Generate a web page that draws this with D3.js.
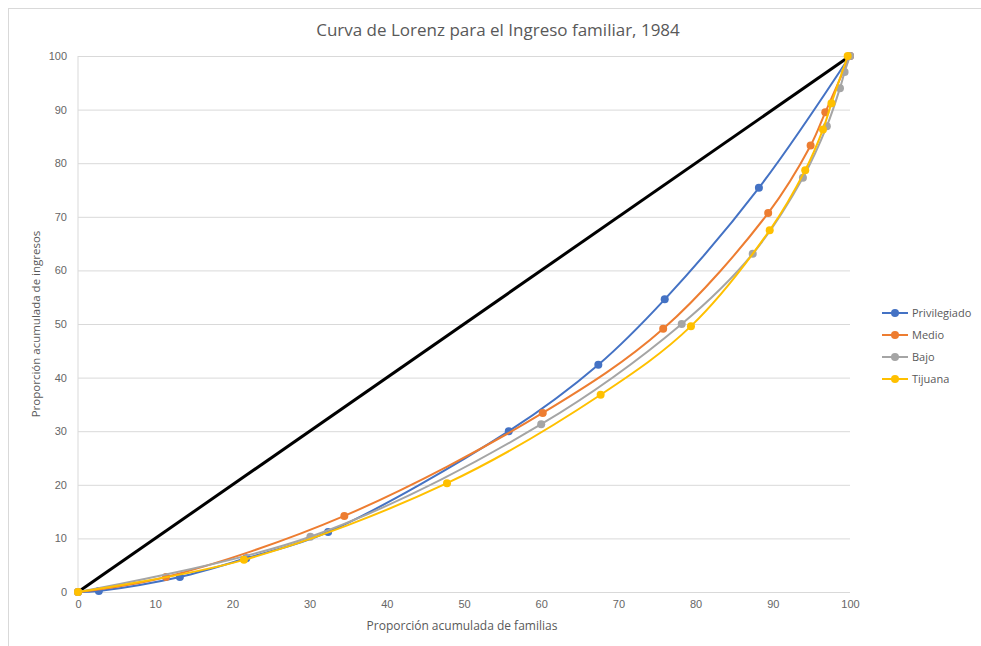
<!DOCTYPE html>
<html>
<head>
<meta charset="utf-8">
<script src="https://cdn.jsdelivr.net/npm/d3@7"></script>
<style>
  body { margin: 0; background: #fff; }
  svg { display: block; font-family: "Open Sans", "Noto Sans", sans-serif; }
</style>
</head>
<body>
<div id="chart"></div>
<script>
// data
const seriesNames = ["Privilegiado", "Medio", "Bajo", "Tijuana"];
const colors = ["#4472C4", "#ED7D31", "#A5A5A5", "#FFC000"];

const privX = [0, 2.7, 13.2, 21.8, 32.4, 55.8, 67.4, 76.0, 88.2, 100];
const privY = [0, 0.2, 2.8, 6.3, 11.2, 30.0, 42.4, 54.6, 75.4, 100];
const medioX = [0, 11.4, 34.5, 60.2, 75.8, 89.4, 94.9, 96.8, 100];
const medioY = [0, 2.8, 14.2, 33.4, 49.1, 70.7, 83.3, 89.5, 100];
const bajoX = [0, 30.1, 60.0, 78.2, 87.4, 93.9, 97.0, 98.7, 99.3, 100];
const bajoY = [0, 10.3, 31.3, 50.0, 63.1, 77.3, 86.9, 94.0, 97.0, 100];
const tijX = [0, 21.5, 47.8, 67.7, 79.4, 89.6, 94.2, 96.5, 97.6, 99.7];
const tijY = [0, 6.0, 20.3, 36.8, 49.6, 67.5, 78.7, 86.3, 91.2, 100];

const equalityX = [0, 100];
const equalityY = [0, 100];

const xTicks = [0, 10, 20, 30, 40, 50, 60, 70, 80, 90, 100];
const yTicks = [0, 10, 20, 30, 40, 50, 60, 70, 80, 90, 100];

const W = 981, H = 646;
const margin = { top: 56, right: 131, bottom: 54, left: 78 };
const width = W - margin.left - margin.right,
      height = H - margin.top - margin.bottom;

const svg = d3.select("#chart").append("svg")
    .attr("width", W)
    .attr("height", H);

// outer frame
svg.append("rect")
    .attr("x", 8.5).attr("y", 8.5)
    .attr("width", W + 20).attr("height", H + 20)
    .attr("fill", "none")
    .attr("stroke", "#d9d9d9");

const g = svg.append("g")
    .attr("transform", "translate(" + margin.left + "," + margin.top + ")");

const x = d3.scaleLinear().domain([0, 100]).range([0, width]);
const y = d3.scaleLinear().domain([0, 100]).range([height, 0]);

// gridlines
g.append("g")
    .call(d3.axisLeft(y).tickValues(yTicks).tickSize(-width).tickFormat(""))
    .call(s => s.select(".domain").remove())
    .selectAll("line").attr("stroke", "#d9d9d9");

g.append("line")
    .attr("x1", 0).attr("x2", 0).attr("y1", 0).attr("y2", height)
    .attr("stroke", "#d9d9d9");

// tick labels
g.append("g")
    .call(d3.axisLeft(y).tickValues(yTicks).tickSize(0).tickPadding(11))
    .call(s => s.select(".domain").remove())
    .selectAll("text")
    .attr("fill", "#666")
    .style("font-size", "11px");

g.append("g")
    .attr("transform", "translate(0," + height + ")")
    .call(d3.axisBottom(x).tickValues(xTicks).tickSize(0).tickPadding(8))
    .call(s => s.select(".domain").remove())
    .selectAll("text")
    .attr("fill", "#666")
    .style("font-size", "11px");

// equality line
const line = d3.line().x(d => x(d[0])).y(d => y(d[1]));
g.append("path")
    .datum(d3.zip(equalityX, equalityY))
    .attr("d", line)
    .attr("fill", "none")
    .attr("stroke", "#000")
    .attr("stroke-width", 3);

const series = [
  d3.zip(privX, privY),
  d3.zip(medioX, medioY),
  d3.zip(bajoX, bajoY),
  d3.zip(tijX, tijY)
];

const smooth = d3.line()
    .x(d => x(d[0])).y(d => y(d[1]))
    .curve(d3.curveCatmullRom.alpha(0.5));

series.forEach((pts, i) => {
  g.append("path")
      .datum(pts)
      .attr("d", smooth)
      .attr("fill", "none")
      .attr("stroke", colors[i])
      .attr("stroke-width", 2);
  g.selectAll(".m" + i)
      .data(pts)
      .enter().append("circle")
      .attr("cx", d => x(d[0]))
      .attr("cy", d => y(d[1]))
      .attr("r", 4)
      .attr("fill", colors[i]);
});

// titles
svg.append("text")
    .attr("x", 498).attr("y", 36)
    .attr("text-anchor", "middle")
    .attr("fill", "#595959")
    .style("font-size", "17px")
    .text("Curva de Lorenz para el Ingreso familiar, 1984");

svg.append("text")
    .attr("x", margin.left + width / 2 - 2).attr("y", 630)
    .attr("text-anchor", "middle")
    .attr("fill", "#595959")
    .style("font-size", "12px")
    .text("Proporción acumulada de familias");

svg.append("text")
    .attr("transform", "translate(40," + (margin.top + height / 2) + ")rotate(-90)")
    .attr("text-anchor", "middle")
    .attr("fill", "#595959")
    .style("font-size", "11.5px")
    .text("Proporción acumulada de ingresos");

// legend
const legend = svg.append("g").attr("transform", "translate(882,313)");
seriesNames.forEach((name, i) => {
  const row = legend.append("g").attr("transform", "translate(0," + i * 22 + ")");
  row.append("line")
      .attr("x1", 0).attr("x2", 26)
      .attr("stroke", colors[i]).attr("stroke-width", 2);
  row.append("circle").attr("cx", 13).attr("r", 4).attr("fill", colors[i]);
  row.append("text")
      .attr("x", 30).attr("dy", "0.35em")
      .attr("fill", "#595959")
      .style("font-size", "11px")
      .text(name);
});
</script>
</body>
</html>
